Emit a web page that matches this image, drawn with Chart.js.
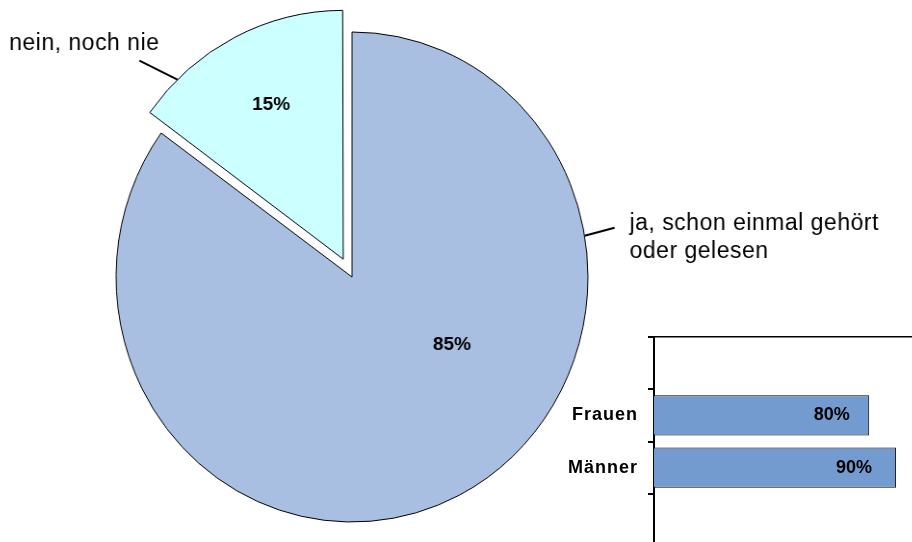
<!DOCTYPE html>
<html><head><meta charset="utf-8">
<script src="https://cdn.jsdelivr.net/npm/chart.js@4"></script>
<style>
html,body{margin:0;padding:0;width:912px;height:542px;overflow:hidden;background:#fff;}
#pieWrap{position:absolute;left:-30px;top:0;width:942px;height:542px;}
#barWrap{position:absolute;left:540px;top:335px;width:385px;height:211px;}
</style></head><body>
<div id="pieWrap"><canvas id="pie"></canvas></div>
<div id="barWrap"><canvas id="bar" width="385" height="211"></canvas></div>
<script>
// ---- data ----
const pieCategories = ['ja, schon einmal gehört oder gelesen', 'nein, noch nie'];
const pieValues = [85, 15];
const pieLabelLines = [['ja, schon einmal gehört', 'oder gelesen'], ['nein, noch nie']];
const barCategories = ['', 'Frauen', 'Männer', ''];
const barValues = [null, 80, 90, null];

// ---- style ----
const FONT = "'Liberation Sans', Arial, sans-serif";
const S = 0.963;      // horizontal squash of the pie (ellipse as in original)
const WRAP_LEFT = -30; // pie canvas starts left of the window so left text is not clipped
const pieColors = ['#A9BFE1', '#CCFFFF'];
const pieOffsets = [0, 80];
const labelSpec = [
  { angle: 80.3, lead: [30, -8], text: [15, 2], align: 'left', pctAngle: 123.3, pctFrac: 0.507 },
  { angle: -43.8, lead: [-38, -19], text: [20, -11], align: 'right', pctAngle: -25.9, pctFrac: 0.689 }
];

const pieLabelPlugin = {
  id: 'pieLabels',
  afterDraw(chart) {
    const ctx = chart.ctx;
    const meta = chart.getDatasetMeta(0);
    const ox = meta.data[0].x;
    const toScreen = x => WRAP_LEFT + ox + (x - ox) * S;
    const toCanvas = X => ox + (X - WRAP_LEFT - ox) / S;
    const drawText = (str, X, Y, align, baseline, font, ls) => {
      ctx.save();
      ctx.translate(toCanvas(X), Y);
      ctx.scale(1 / S, 1);
      ctx.font = font;
      ctx.textAlign = align;
      ctx.textBaseline = baseline;
      try { ctx.letterSpacing = ls; } catch (e) {}
      ctx.fillStyle = '#000';
      ctx.fillText(str, 0, 0);
      ctx.restore();
    };
    meta.data.forEach((el, i) => {
      const o = el.options;
      const off = (o.offset || 0) / 4;
      const half = (el.startAngle + el.endAngle) / 2;
      const circ = el.endAngle - el.startAngle;
      const fix = 1 - Math.sin(Math.min(Math.PI, circ));
      const R = el.outerRadius + off * fix;
      const cx = el.x + Math.cos(half) * off, cy = el.y + Math.sin(half) * off;
      const polar = (deg, r) => [toScreen(cx + r * Math.sin(deg * Math.PI / 180)), cy - r * Math.cos(deg * Math.PI / 180)];
      const sp = labelSpec[i];
      // percentage
      const [px, py] = polar(sp.pctAngle, R * sp.pctFrac);
      drawText(pieValues[i] + '%', px, py, 'center', 'middle', 'bold 19px ' + FONT, '0px');
      // leader line
      const [ax, ay] = polar(sp.angle, R);
      const bx = ax + sp.lead[0], by = ay + sp.lead[1];
      ctx.save();
      ctx.strokeStyle = '#000';
      ctx.lineWidth = 2;
      ctx.beginPath();
      ctx.moveTo(toCanvas(ax), ay);
      ctx.lineTo(toCanvas(bx), by);
      ctx.stroke();
      ctx.restore();
      // category text
      pieLabelLines[i].forEach((line, k) => {
        drawText(line, bx + sp.text[0], by + sp.text[1] + k * 28, sp.align, 'alphabetic', '23px ' + FONT, '0.5px');
      });
    });
  }
};

const pieChart = new Chart(document.getElementById('pie'), {
  type: 'pie',
  data: {
    labels: pieCategories,
    datasets: [{
      data: pieValues,
      backgroundColor: pieColors,
      borderColor: '#000',
      borderWidth: 1,
      offset: pieOffsets
    }]
  },
  options: {
    responsive: true,
    maintainAspectRatio: false,
    animation: false,
    radius: 245,
    layout: { padding: { left: 0, right: 178, top: 12, bottom: 0 } },
    plugins: { legend: { display: false }, tooltip: { enabled: false } }
  },
  plugins: [pieLabelPlugin]
});
const pw = document.getElementById('pieWrap');
pw.style.transformOrigin = pieChart.getDatasetMeta(0).data[0].x + 'px 0';
pw.style.transform = 'scaleX(' + S + ')';

const barLabelPlugin = {
  id: 'barLabels',
  beforeDraw(chart) { try { chart.ctx.letterSpacing = '1px'; } catch (e) {} },
  afterDatasetsDraw(chart) {
    const ctx = chart.ctx;
    const meta = chart.getDatasetMeta(0);
    ctx.save();
    try { ctx.letterSpacing = '0px'; } catch (e) {}
    ctx.font = 'bold 18px ' + FONT;
    ctx.fillStyle = '#000';
    ctx.textAlign = 'center';
    ctx.textBaseline = 'middle';
    meta.data.forEach((el, i) => {
      const v = barValues[i];
      if (v === null || v === undefined) return;
      const x = el.base + 0.826 * (el.x - el.base);
      ctx.fillText(v + '%', x, el.y);
    });
    ctx.restore();
  },
  afterDraw(chart) { try { chart.ctx.letterSpacing = '0px'; } catch (e) {} }
};

new Chart(document.getElementById('bar'), {
  type: 'bar',
  data: {
    labels: barCategories,
    datasets: [{
      data: barValues,
      backgroundColor: '#739BCF',
      borderColor: '#000',
      borderWidth: 1,
      barPercentage: 0.77,
      categoryPercentage: 1
    }]
  },
  options: {
    indexAxis: 'y',
    responsive: false,
    animation: false,
    layout: { padding: { left: 0, right: 2, top: 2, bottom: 0 } },
    scales: {
      x: {
        position: 'top', min: 0, max: 100,
        grid: { display: false },
        ticks: { display: false },
        border: { display: true, color: '#000', width: 1.5 },
        afterFit(s) { s.height = 0; s.paddingLeft = 0; s.paddingRight = 0; }
      },
      y: {
        grid: { display: true, drawOnChartArea: false, drawTicks: true, tickLength: 6, color: '#000', lineWidth: 2, offset: true },
        border: { display: true, color: '#000', width: 2 },
        ticks: { color: '#000', font: { family: FONT, size: 18, weight: 'bold' }, padding: 10 },
        afterFit(s) { s.width = 114; s.paddingTop = 0; s.paddingBottom = 0; }
      }
    },
    plugins: { legend: { display: false }, tooltip: { enabled: false } }
  },
  plugins: [barLabelPlugin]
});
</script>
</body></html>
